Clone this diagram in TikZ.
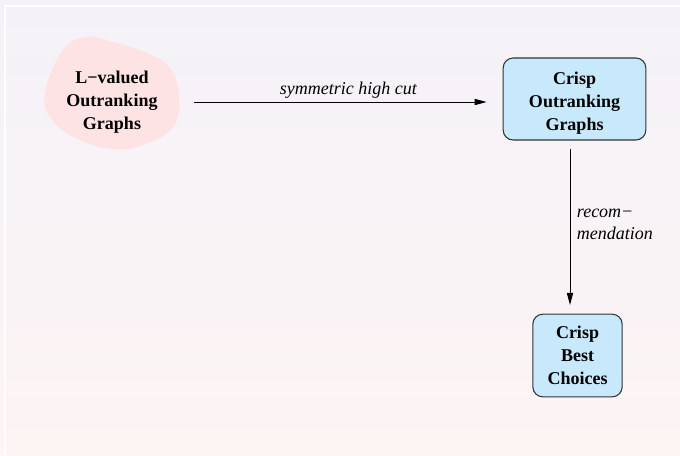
\documentclass[tikz,border=0pt]{standalone}
\usepackage{fontspec}
\setmainfont{Liberation Serif}
\usetikzlibrary{arrows.meta}
\definecolor{bgtop}{HTML}{F4F2F8}
\definecolor{bgbot}{HTML}{FDF4F4}
\definecolor{blobfill}{HTML}{FDE3E3}
\definecolor{boxfill}{HTML}{C8E8FC}
\definecolor{boxline}{HTML}{333333}
\tikzset{
  lbl/.style={font=\fontsize{13.5}{17.2}\selectfont\bfseries, align=center},
  crispbox/.style={lbl, draw=boxline, line width=0.8pt, fill=boxfill, rounded corners=7.5pt, inner sep=0pt},
  edgelbl/.style={font=\fontsize{13.5}{16}\selectfont\itshape},
  flow/.style={-{Triangle[length=9pt,width=4.6pt]}, line width=0.7pt, black}
}
\begin{document}
\begin{tikzpicture}[x=0.75pt,y=-0.75pt]
  % background with a soft vertical gradient and a thin white frame edge
  \shade[top color=bgtop, bottom color=bgbot] (0,0) rectangle (680,455);
  \useasboundingbox (0,0) rectangle (680,455);
  \draw[white, line width=0.9pt] (5,455) -- (5,6) -- (680,6);

  % irregular blob behind the valued graphs
  \fill[blobfill] plot[smooth cycle, tension=0.7] coordinates {
    (63,50) (87,37) (113,42) (147,53) (170,68) (179,97) (173,127)
    (143,145) (113,149) (80,140) (53,121) (45,93)};

  \node[lbl, minimum width=123pt] (lval) at (112,102) {L−valued\\Outranking\\Graphs};
  \node[crispbox, minimum width=107pt, minimum height=61.5pt] (cog) at (574.5,99)
    {\raisebox{-2.8pt}[\height][\depth]{\begin{tabular}{@{}c@{}}Crisp\\Outranking\\Graphs\end{tabular}}};
  \node[crispbox, minimum width=67pt, minimum height=62pt] (cbc) at (577.5,355.5) {Crisp\\Best\\Choices};

  \draw[flow, shorten >=12pt] (lval.east) -- (lval.east -| cog.west)
    node[midway, above=0pt, inner sep=2.3pt, edgelbl] (hc) {symmetric high cut};
  \draw[flow, shorten <=6pt, shorten >=6.5pt] (cog.south -| 570,0) -- (cbc.north -| 570,0)
    node[pos=0.485, right=1.5pt, edgelbl, align=left] (rec) {recom−\\mendation};
\end{tikzpicture}
\end{document}
